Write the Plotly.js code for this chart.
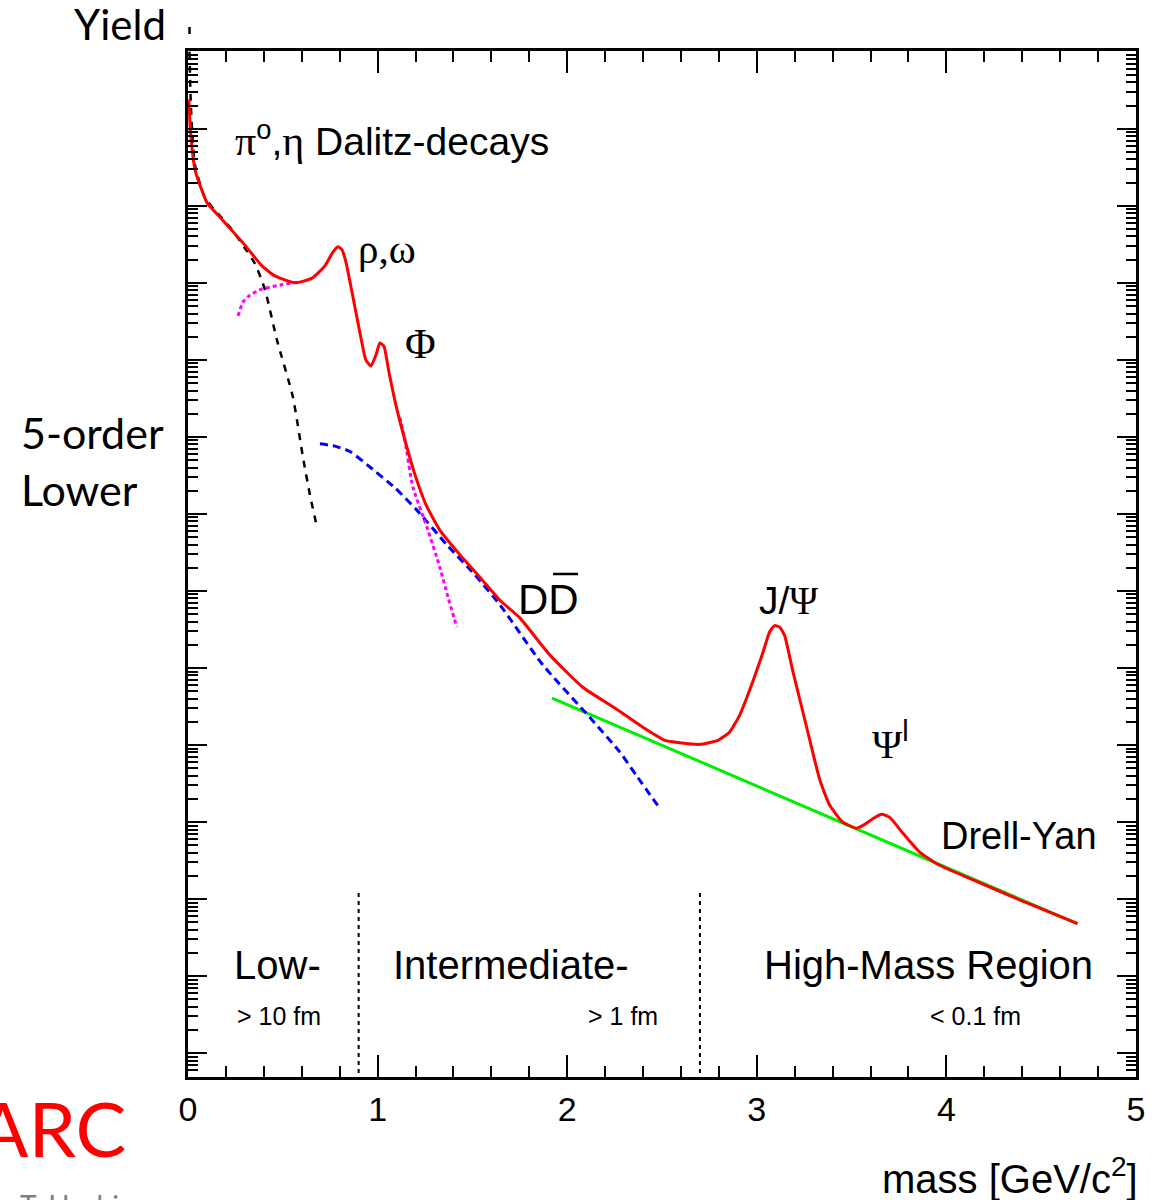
<!DOCTYPE html>
<html>
<head>
<meta charset="utf-8">
<script src="https://cdn.plot.ly/plotly-3.0.1.min.js"></script>
<style>html,body{margin:0;padding:0;background:#fff;overflow:hidden;}</style>
</head>
<body>
<div id="chart" style="width:1160px;height:1200px;"></div>
<script>
// ---- data (mass in GeV/c^2, yield in arbitrary units, log scale) ----
const massTotal = [0.005,0.011,0.021,0.037,0.063,0.100,0.158,0.221,0.300,0.390,0.459,0.564,0.654,0.722,0.764,0.791,0.812,0.833,0.865,0.907,0.938,0.965,0.991,1.012,1.033,1.060,1.096,1.144,1.197,1.255,1.328,1.434,1.539,1.645,1.750,1.908,2.082,2.251,2.399,2.515,2.594,2.699,2.794,2.857,2.910,2.962,3.031,3.068,3.094,3.121,3.147,3.189,3.263,3.332,3.384,3.453,3.527,3.569,3.616,3.658,3.701,3.769,3.859,3.964,4.122,4.386,4.692];
const yieldTotal = [2.40e12,1.12e12,5.62e11,2.95e11,1.86e11,1.10e11,7.59e10,5.13e10,3.09e10,1.66e10,1.23e10,1.00e10,1.15e10,1.66e10,2.51e10,2.95e10,2.69e10,1.86e10,7.59e9,2.24e9,1.00e9,8.32e8,1.15e9,1.66e9,1.51e9,6.92e8,2.63e8,9.12e7,3.24e7,1.32e7,6.17e6,2.95e6,1.51e6,7.59e5,4.47e5,1.48e5,5.62e4,3.02e4,1.70e4,1.15e4,1.07e4,1.02e4,1.15e4,1.48e4,2.45e4,5.13e4,1.55e5,2.95e5,3.55e5,3.39e5,2.63e5,9.33e4,1.70e4,3.55e3,1.66e3,1.00e3,832,933,1.12e3,1.26e3,1.15e3,724,407,275,186,97.7,47.9];

const massDY = [1.92,3.30,4.69];
const yieldDY = [4.07e4,1.41e3,47.9];

const massDD = [0.696,0.775,0.854,0.959,1.091,1.207,1.365,1.513,1.645,1.871,2.119,2.277,2.372,2.488];
const yieldDD = [8.13e7,7.59e7,6.46e7,4.07e7,2.19e7,1.12e7,3.98e6,1.62e6,6.61e5,1.10e5,2.29e4,8.13e3,3.80e3,1.51e3];

const massDalitz = [0.008,0.016,0.037,0.090,0.158,0.232,0.300,0.353,0.406,0.469,0.553,0.606,0.643,0.680];
const yieldDalitz = [1.00e13,1.78e12,3.39e11,1.26e11,7.94e10,4.90e10,2.82e10,1.78e10,8.13e9,1.82e9,3.31e8,5.50e7,1.78e7,6.76e6];

const massVecLow = [0.264,0.290,0.327,0.390,0.485,0.575];
const yieldVecLow = [3.72e9,5.62e9,6.92e9,8.32e9,9.33e9,1.02e10];
const massVecHigh = [1.118,1.144,1.186,1.260,1.328,1.371,1.418];
const yieldVecHigh = [1.78e8,9.12e7,2.24e7,6.76e6,2.04e6,8.32e5,3.39e5];

const regionBounds = [0.9, 2.7];
const regionLineYield = [120, 0.45];

const xTickVals = [0,1,2,3,4,5];
const xTickText = ['0','1','2','3','4','5'];

// ---- layout helpers (pixel -> paper) ----
const L = 188, R = 1136, T = 51, B = 1077;
const X = px => (px - L) / (R - L);
const Y = py => (B - py) / (B - T);

const SANS = 'Liberation Sans, Arial, sans-serif';
const SERIF = 'Liberation Serif, Times New Roman, serif';
const SLIDE = 'Lato, Open Sans, sans-serif';

const traces = [
  {x: massDY, y: yieldDY, mode:'lines', line:{color:'#00ee00', width:3}},
  {x: massDD, y: yieldDD, mode:'lines', line:{color:'#0000ff', width:3, dash:'8px,5px', shape:'spline', smoothing:0.6}},
  {x: massDalitz, y: yieldDalitz, mode:'lines', line:{color:'#000000', width:2.5, dash:'7px,7px', shape:'spline', smoothing:0.6}},
  {x: massVecLow, y: yieldVecLow, mode:'lines', line:{color:'#ff00ff', width:3, dash:'4px,3px', shape:'spline', smoothing:0.6}},
  {x: massVecHigh, y: yieldVecHigh, mode:'lines', line:{color:'#ff00ff', width:3, dash:'4px,3px', shape:'spline', smoothing:0.6}},
  {x: [regionBounds[0], regionBounds[0]], y: regionLineYield, mode:'lines', line:{color:'#000', width:2, dash:'4px,4px'}},
  {x: [regionBounds[1], regionBounds[1]], y: regionLineYield, mode:'lines', line:{color:'#000', width:2, dash:'4px,4px'}},
  {x: massTotal, y: yieldTotal, mode:'lines', line:{color:'#ff0000', width:3, shape:'spline', smoothing:0.5}}
];

function ann(text, px, py, size, opts) {
  return Object.assign({
    text: text, xref:'paper', yref:'paper', x: X(px), y: Y(py),
    xanchor:'center', yanchor:'middle', showarrow:false,
    font:{family:SANS, size:size, color:'#000'}
  }, opts || {});
}
const sp = t => '<span style="font-family:Liberation Serif">' + t + '</span>';

const annotations = [
  ann('Yield', 120, 24, 42, {font:{family:SLIDE, size:42, color:'#000'}}),
  ann('5-order', 19, 432, 43, {xanchor:'left', font:{family:SLIDE, size:43, color:'#000'}}),
  ann('Lower', 19, 489, 43, {xanchor:'left', font:{family:SLIDE, size:43, color:'#000'}}),
  ann('ARC', 128, 1127, 76, {xanchor:'right', font:{family:SLIDE, size:76, color:'#ff0000'}}),
  ann('T. Hachiya', 18, 1186, 28, {xanchor:'left', yanchor:'top', font:{family:SLIDE, size:28, color:'#7f7f7f'}}),
  ann('<span style="font-family:Liberation Serif;font-size:42px">π</span><sup>o</sup>,<span style="font-family:Liberation Serif;font-size:42px">η</span> Dalitz-decays', 233, 139, 39, {xanchor:'left'}),
  ann('ρ,ω', 387, 249, 41, {font:{family:SERIF, size:41, color:'#000'}}),
  ann('Φ', 420, 344, 42, {font:{family:SERIF, size:42, color:'#000'}}),
  ann('DD', 548, 599, 42),
  ann('J/' + sp('Ψ'), 788, 600, 39),
  ann(sp('Ψ') + '<sup>l</sup>', 890, 741, 41),
  ann('Drell-Yan', 1019, 836, 38),
  ann('Low-', 277, 965, 40),
  ann('Intermediate-', 511, 965, 40),
  ann('High-Mass Region', 928, 965, 40),
  ann('> 10 fm', 279, 1016, 25),
  ann('> 1 fm', 623, 1016, 25),
  ann('< 0.1 fm', 975, 1016, 25),
  ann('mass [GeV/c<sup>2</sup>]', 1140, 1176, 40, {xanchor:'right'})
];

const shapes = [
  {type:'line', xref:'paper', yref:'paper', x0:X(553), x1:X(578), y0:Y(574), y1:Y(574), line:{color:'#000', width:2.5}},
  {type:'line', xref:'paper', yref:'paper', x0:X(189.5), x1:X(189.5), y0:Y(27), y1:Y(34), line:{color:'#000', width:2.5}}
];

const layout = {
  width:1160, height:1200,
  margin:{l:L, r:1160-R, t:T, b:1200-B, pad:0},
  paper_bgcolor:'#fff', plot_bgcolor:'#fff',
  showlegend:false,
  xaxis:{
    range:[0,5], tickmode:'array', tickvals:xTickVals, ticktext:xTickText,
    ticks:'inside', ticklen:22, tickwidth:2, tickcolor:'#000',
    showline:true, linewidth:3, linecolor:'#000', mirror:'ticks',
    showgrid:false, zeroline:false,
    tickfont:{family:SANS, size:34, color:'#000'},
    minor:{dtick:0.2, tick0:0, ticks:'inside', ticklen:11, tickwidth:2, tickcolor:'#000', showgrid:false}
  },
  yaxis:{
    type:'log', range:[-0.31, 13.01], dtick:1,
    ticks:'inside', ticklen:19, tickwidth:2, tickcolor:'#000',
    showline:true, linewidth:3, linecolor:'#000', mirror:'ticks',
    showgrid:false, zeroline:false, showticklabels:false,
    minor:{dtick:'D1', ticks:'inside', ticklen:10, tickwidth:2, tickcolor:'#000', showgrid:false}
  },
  annotations: annotations,
  shapes: shapes
};

Plotly.newPlot('chart', traces, layout, {displayModeBar:false, staticPlot:true});
</script>
</body>
</html>
